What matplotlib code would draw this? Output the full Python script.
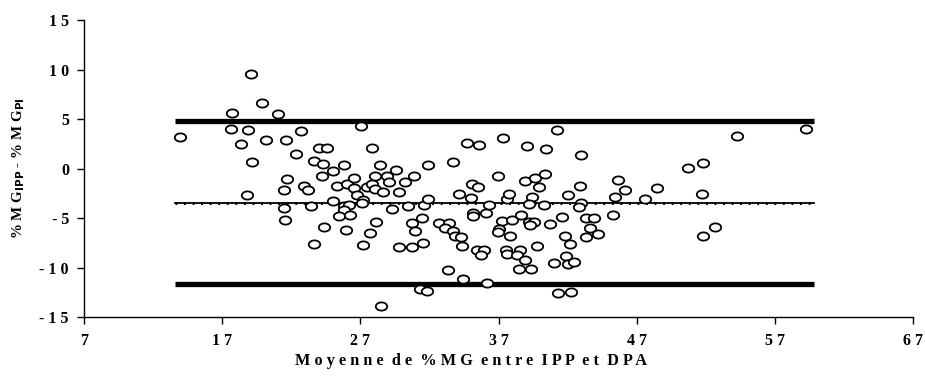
import numpy as np
import matplotlib
matplotlib.use("Agg")
import matplotlib.pyplot as plt
from matplotlib.path import Path

plt.rcParams.update({
    'font.family': ['Liberation Serif', 'DejaVu Serif'],
    'font.size': 11,
    'axes.linewidth': 1.0,
    'figure.facecolor': 'white',
    'axes.facecolor': 'white',
})

# ── DONNÉES ──────────────────────────────────────────────────
# moyenne de %MG entre IPP et DPA
x_mean = [13.93, 17.70, 17.65, 18.37, 18.83, 19.09, 19.16, 18.78, 19.86, 20.17,
          21.02, 21.62, 22.32, 21.67, 21.50, 21.47, 21.57, 22.68, 22.92, 23.20,
          23.64, 24.03, 24.60, 24.27, 24.19, 23.45, 24.36, 23.67, 25.04, 24.99,
          25.33, 25.80, 26.05, 26.52, 26.50, 25.83, 26.14, 25.80, 25.47, 26.24,
          25.95, 26.72, 27.03, 27.20, 27.13, 27.44, 27.82, 27.87, 28.07, 28.07,
          28.11, 27.66, 27.20, 28.40, 28.65, 28.52, 28.93, 29.08, 29.29, 29.55,
          29.80, 30.23, 29.80, 30.47, 30.71, 30.76, 30.85, 30.95, 31.48, 31.57,
          31.53, 31.34, 31.82, 31.89, 31.91, 32.69, 33.41, 33.14, 33.70, 33.70,
          33.81, 34.29, 34.17, 34.37, 33.33, 34.46, 34.73, 35.57, 35.07, 35.54,
          35.02, 35.14, 35.16, 35.43, 35.98, 35.74, 36.10, 36.34, 36.15, 36.94,
          37.25, 37.06, 36.94, 37.35, 37.59, 37.78, 37.54, 37.63, 37.83, 37.97,
          38.62, 38.55, 38.31, 38.91, 38.50, 39.32, 38.93, 39.06, 39.18, 39.58,
          39.27, 39.42, 39.18, 39.66, 39.94, 39.78, 40.38, 40.30, 40.43, 40.72,
          41.03, 41.22, 41.27, 41.58, 41.80, 42.18, 41.87, 42.06, 42.47, 42.01,
          42.23, 42.90, 42.97, 42.97, 42.79, 43.36, 43.94, 43.65, 43.31, 44.18,
          45.26, 45.43, 45.62, 46.13, 47.59, 48.44, 50.74, 51.81, 51.73, 52.64,
          51.78, 54.26, 59.26]
# différence %MG IPP - %MG PI
y_diff = [3.23, 5.65, 4.01, 2.46, 3.87, 9.56, 0.71, -2.65, 6.60, 2.90,
          5.52, 2.90, 1.48, -1.04, -2.18, -3.94, -5.21, 3.83, -1.75, -2.15,
          0.75, 2.09, 2.09, 0.50, -0.74, -3.76, -5.85, -7.57, -0.23, -3.26,
          -1.72, 0.37, -1.57, -1.92, -0.91, -3.76, -3.63, -4.17, -4.77, -4.70,
          -6.16, -2.65, 4.31, -3.16, -3.49, -1.85, -1.57, 2.09, -0.74, -2.05,
          -5.41, -6.49, -7.73, 0.34, -2.35, -13.88, -0.74, -1.34, -4.10, -0.10,
          -2.35, -1.34, -7.90, -3.76, -5.51, -7.87, -0.74, -6.32, -4.97, -3.63,
          -7.50, -12.17, -12.31, 0.37, -3.09, -5.51, -5.51, -6.01, -6.26, 0.71,
          -6.76, -6.92, -2.52, -7.83, -10.22, -11.16, 2.62, 2.42, -1.51, -1.85,
          -2.99, -4.50, -4.77, -8.20, -8.20, -8.71, -4.44, -3.69, -11.56, -0.74,
          -5.31, -6.05, -6.36, 3.10, -3.09, -2.52, -8.20, -8.61, -6.76, -5.18,
          -4.67, -8.20, -8.74, -9.24, -10.15, -10.09, -1.21, 2.29, -5.35, -5.35,
          -5.68, -2.89, -3.56, -0.97, -1.85, -7.80, -0.57, -3.69, 1.96, -5.61,
          -9.55, 3.91, -12.51, -4.92, -6.76, -7.57, -8.81, -9.62, -9.41, -2.62,
          -12.44, -1.72, 1.35, -3.43, -3.90, -5.01, -5.01, -5.95, -6.92, -6.59,
          -4.70, -2.83, -1.14, -2.15, -3.09, -1.98, 0.07, 0.58, -2.52, -5.91,
          -6.76, 3.27, 4.04]

# moyenne des différences et limites d'agrément
line_x = [13.6, 59.8]
mean_diff = -3.49
upper_lim = 4.84
lower_lim = -11.66

x_ticks = [7, 17, 27, 37, 47, 57, 67]
y_ticks = [-15, -10, -5, 0, 5, 10, 15]


def spaced(v):
    # chiffres espacés comme dans la figure scannée
    return " ".join(str(v))


# marqueur ellipse (plus large que haut)
t = np.linspace(0, 2 * np.pi, 60)
ellipse = Path(np.column_stack([np.cos(t), 0.72 * np.sin(t)]), closed=True)

fig = plt.figure(figsize=(9.25, 3.9), dpi=100)
ax = fig.add_axes([0.091, 0.1864, 0.896, 0.7623])

ax.plot(line_x, [upper_lim, upper_lim], color="black", lw=3.8,
        solid_capstyle="butt", zorder=2)
ax.plot(line_x, [lower_lim, lower_lim], color="black", lw=3.8,
        solid_capstyle="butt", zorder=2)
ax.plot(line_x, [mean_diff, mean_diff], color="black", lw=1.3, zorder=2)
ax.plot(line_x, [mean_diff, mean_diff], color="black", lw=2.2, ls=(0, (0.6, 2.2)),
        zorder=2)

ax.plot(x_mean, y_diff, ls="none", marker=ellipse, ms=8.2, mfc="white",
        mec="black", mew=1.3, zorder=3)

ax.set_xlim(7, 67)
ax.set_ylim(-15, 15)
ax.set_xticks(x_ticks)
ax.set_xticklabels([spaced(v) for v in x_ticks], fontsize=11.5, fontweight="bold")
ax.set_yticks(y_ticks)
ax.set_yticklabels([spaced(v) for v in y_ticks], fontsize=11.5, fontweight="bold")
ax.tick_params(direction="out", length=5, width=1.0, pad=6)

ax.spines["top"].set_visible(False)
ax.spines["right"].set_visible(False)

fig.text(0.509, 0.075,
         "M o y e n n e  d e  % M G  e n t r e  I P P  e t  D P A",
         fontsize=11.7, fontweight="bold", ha="center", va="center")
fig.text(0.02, 0.569, r"% M G$_{\mathbf{IPP}}$ - % M G$_{\mathbf{PI}}$",
         rotation=90, fontsize=10.8, fontweight="bold", ha="center", va="center")

plt.savefig("out.png", dpi=100)
